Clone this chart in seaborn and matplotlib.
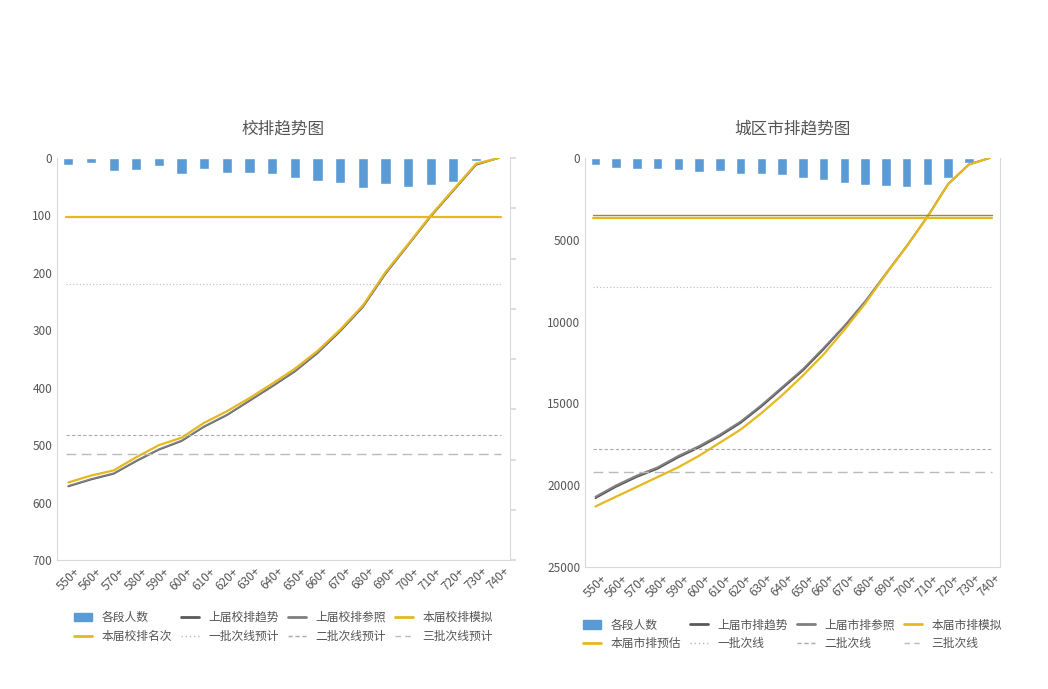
import matplotlib
matplotlib.use("Agg")
import matplotlib.pyplot as plt
import seaborn as sns
import numpy as np
import pandas as pd
from matplotlib.lines import Line2D
from matplotlib.patches import Patch

sns.set_theme(style="white")
plt.rcParams['font.family'] = ['Noto Sans CJK SC', 'DejaVu Sans']

cats = ["550+","560+","570+","580+","590+","600+","610+","620+","630+","640+",
        "650+","660+","670+","680+","690+","700+","710+","720+","730+","740+"]
# left chart (校排)
l_bars = [12,9,22,21,14,28,19,26,26,28,35,40,44,52,45,50,47,42,5,0]
l_prev = [572,560,550,528,508,493,468,448,423,398,372,340,302,260,202,152,102,57,12,0]
l_ref  = [571,559,549,527,507,492,467,447,422,397,371,339,301,259,201,151,101,56,11,0]
l_cur  = [565,553,544,521,500,487,461,441,418,393,367,336,299,257,199,150,100,55,10,0]
l_rank = 103
l_lines = [220,482,515]
# right chart (市排)
r_bars = [450,600,650,700,750,850,800,950,1000,1050,1250,1350,1500,1650,1700,1750,1650,1200,300,0]
r_prev = [20800,20100,19500,19000,18300,17700,17000,16200,15200,14100,13000,11700,10300,8800,7100,5400,3600,1600,400,0]
r_ref  = [20700,20000,19400,18900,18200,17600,16900,16100,15100,14000,12900,11600,10250,8750,7050,5380,3580,1580,390,0]
r_cur  = [21300,20700,20100,19500,18900,18200,17400,16600,15600,14500,13300,12000,10500,8900,7100,5400,3600,1600,400,0]
r_rank = 3650
r_rank2 = 3500
r_lines = [7900,17800,19200]

fig = plt.figure(figsize=(10.48,6.89), dpi=100)
ax1 = fig.add_axes([57/1048, 1-560/689, 453/1048, 402/689])
ax2 = fig.add_axes([585/1048, 1-567/689, 415/1048, 409/689])

bar_c = "#5b9bd5"; gold = "#e6b820"; gray = "#7f7f7f"; dgray = "#5a5a5a"
x = np.arange(len(cats))

def draw(ax, bars, prev, ref, cur, rank, lines, ylim, yticks, title, names, rank2=None):
    df = pd.DataFrame({"cat": cats, "v": bars})
    sns.barplot(data=df, x="cat", y="v", color=bar_c, width=0.45, ax=ax, saturation=1)
    sns.lineplot(x=x, y=prev, color=dgray, lw=1.2, ax=ax)
    sns.lineplot(x=x, y=ref, color=gray, lw=1.2, ax=ax)
    sns.lineplot(x=x, y=cur, color=gold, lw=1.6, ax=ax)
    ax.axhline(rank, xmin=0.02, xmax=0.98, color=gold, lw=1.6)
    if rank2 is not None:
        ax.axhline(rank2, xmin=0.02, xmax=0.98, color="#a08a30", lw=1.0)
    ax.axhline(lines[0], xmin=0.02, xmax=0.98, color="#bbbbbb", lw=0.8, ls=(0,(1,2)))
    ax.axhline(lines[1], xmin=0.02, xmax=0.98, color="#aaaaaa", lw=0.8, ls=(0,(3,2)))
    ax.axhline(lines[2], xmin=0.02, xmax=0.98, color="#bbbbbb", lw=1.0, ls=(0,(7,4)))
    ax.set_ylim(ylim[1], ylim[0])
    ax.set_yticks(yticks)
    ax.set_xlim(-0.5, len(cats)-0.5)
    ax.set_xticks(x)
    ax.set_xticklabels(cats, rotation=45, fontsize=8.5, color="#555555")
    ax.tick_params(axis='y', labelsize=8.5, colors="#555555", length=0)
    ax.tick_params(axis='x', length=0)
    ax.set_xlabel(""); ax.set_ylabel("")
    for s in ax.spines.values():
        s.set_color("#d9d9d9"); s.set_linewidth(0.8)
    ax.spines['top'].set_visible(False)
    ax.set_title(title, fontsize=12, color="#555555", pad=18)
    handles = [Patch(color=bar_c), Line2D([],[],color=dgray,lw=2), Line2D([],[],color=gray,lw=2),
               Line2D([],[],color=gold,lw=2), Line2D([],[],color=gold,lw=2),
               Line2D([],[],color="#bbbbbb",lw=1,ls=(0,(1,2))), Line2D([],[],color="#aaaaaa",lw=1,ls=(0,(3,2))),
               Line2D([],[],color="#bbbbbb",lw=1,ls=(0,(4,3)))]
    order = [0,2,4,6,1,3,5,7]
    ax.legend([handles[i] for i in [0,4,1,5,2,6,3,7]], [names[i] for i in [0,4,1,5,2,6,3,7]],
              ncol=4, loc="upper center", bbox_to_anchor=(0.5,-0.1), frameon=False,
              fontsize=8.5, handlelength=1.5, columnspacing=0.8, labelcolor="#555555")

draw(ax1, l_bars, l_prev, l_ref, l_cur, l_rank, l_lines, (0,700), range(0,701,100), "校排趋势图",
     ["各段人数","上届校排趋势","上届校排参照","本届校排模拟","本届校排名次","一批次线预计","二批次线预计","三批次线预计"])
draw(ax2, r_bars, r_prev, r_ref, r_cur, r_rank, r_lines, (0,25000), range(0,25001,5000), "城区市排趋势图",
     ["各段人数","上届市排趋势","上届市排参照","本届市排模拟","本届市排预估","一批次线","二批次线","三批次线"], rank2=r_rank2)
ax1.spines['right'].set_visible(True)
sec = ax1.twinx(); sec.set_ylim(ax1.get_ylim()); sec.set_yticks(np.linspace(0,700,9)); sec.set_yticklabels([])
sec.tick_params(axis='y', length=4, color="#d9d9d9", direction='out')
for s in sec.spines.values(): s.set_visible(False)
fig.savefig("out.png", dpi=100, facecolor="white")
